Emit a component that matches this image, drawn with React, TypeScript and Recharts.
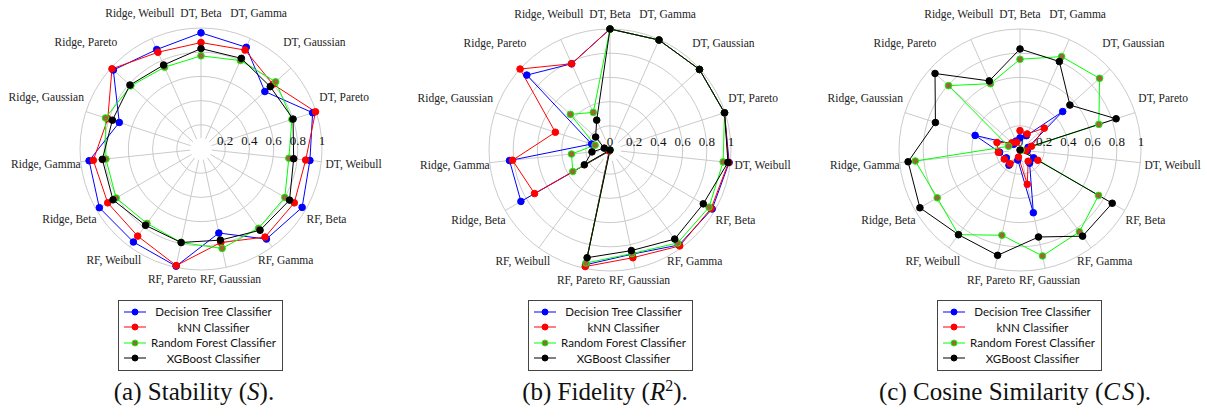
import React from "react";
import {
  RadarChart,
  Radar,
  PolarGrid,
  PolarAngleAxis,
  PolarRadiusAxis,
} from "recharts";

// clockwise from the top
const categories = [
  "DT, Beta", "DT, Gamma", "DT, Gaussian", "DT, Pareto", "DT, Weibull",
  "RF, Beta", "RF, Gamma", "RF, Gaussian", "RF, Pareto", "RF, Weibull",
  "Ridge, Beta", "Ridge, Gamma", "Ridge, Gaussian", "Ridge, Pareto", "Ridge, Weibull",
];

const radiusTicks = [0, 0.2, 0.4, 0.6, 0.8, 1];

// (a) stability
const stabilityDT = [0.96, 0.92, 0.71, 0.97, 0.905, 0.965, 0.92, 0.71, 0.99, 0.95, 0.97, 0.93, 0.71, 0.975, 0.9];
const stabilityKNN = [0.88, 0.895, 0.8, 0.995, 0.87, 0.89, 0.9, 0.79, 0.985, 0.89, 0.89, 0.895, 0.81, 0.99, 0.875];
const stabilityRF = [0.77, 0.8, 0.83, 0.79, 0.73, 0.8, 0.81, 0.84, 0.79, 0.76, 0.81, 0.79, 0.83, 0.78, 0.74];
const stabilityXGB = [0.83, 0.82, 0.77, 0.8, 0.77, 0.845, 0.83, 0.77, 0.79, 0.78, 0.84, 0.82, 0.77, 0.79, 0.76];

// (b) fidelity
const fidelityDT = [1, 0.995, 0.995, 0.995, 0.99, 0.975, 0.97, 0.88, 0.97, 0.01, 0.85, 0.835, 0.16, 0.925, 0.78];
const fidelityKNN = [1, 0.995, 0.995, 0.995, 0.985, 0.965, 0.98, 0.91, 0.985, 0.01, 0.72, 0.81, 0.475, 1, 0.78];
const fidelityRF = [1, 0.995, 0.995, 0.995, 0.94, 0.945, 0.95, 0.875, 0.955, 0, 0.355, 0.32, 0.13, 0.44, 0.34];
const fidelityXGB = [1, 0.995, 0.995, 0.995, 0.98, 0.89, 0.91, 0.85, 0.91, 0, 0.245, 0.15, 0.05, 0.16, 0.27];

// (c) cosine similarity
const cosineDT = [0.1, 0.13, 0.475, 0.07, 0.06, 0.13, 0.135, 0.53, 0.085, 0.155, 0.13, 0.17, 0.39, 0.07, 0.08];
const cosineKNN = [0.16, 0.145, 0.27, 0.1, 0.05, 0.17, 0.115, 0.29, 0.06, 0.14, 0.15, 0.18, 0.2, 0.09, 0.07];
const cosineRF = [0.75, 0.845, 0.885, 0.685, 0.01, 0.75, 0.835, 0.895, 0.72, 0.865, 0.79, 0.87, 0.1, 0.795, 0.6];
const cosineXGB = [0.835, 0.8, 0.555, 0.835, 0, 0.88, 0.88, 0.735, 0.89, 0.865, 0.955, 0.93, 0.735, 0.945, 0.625];

const seriesStyle = [
  { key: "dt", name: "Decision Tree Classifier", color: "#0000ff", dotFill: "#0000ff" },
  { key: "knn", name: "kNN Classifier", color: "#ff0000", dotFill: "#ff0000" },
  { key: "rf", name: "Random Forest Classifier", color: "#00ff00", dotFill: "#9b6638" },
  { key: "xgb", name: "XGBoost Classifier", color: "#000000", dotFill: "#000000" },
];

function rows(dt: number[], knn: number[], rf: number[], xgb: number[]) {
  return categories.map((category, i) => ({ category, dt: dt[i], knn: knn[i], rf: rf[i], xgb: xgb[i] }));
}

const OUTER = 121;
const tickFont = "'Liberation Serif', 'Times New Roman', serif";

// label boxes sit outside the ring, pushed away like pgfplots does
function AngleTick(props: any) {
  const { x, y, payload } = props;
  const label: string = payload.value;
  const a = (payload.coordinate * Math.PI) / 180;
  const c = Math.cos(a);
  const s = Math.sin(a);
  const hw = (label.length * 5) / 2;
  const offX = hw * Math.sign(c) * Math.pow(Math.abs(c), 1.4);
  const s2 = Math.abs(Math.sin(2 * a));
  const offY = s > 0 ? 10 * s + 16 * s2 : 5 * s - 5 * s2;
  return (
    <text
      x={x + offX}
      y={y - offY}
      dy="0.33em"
      textAnchor="middle"
      fontSize={11.5}
      fontFamily={tickFont}
      fill="#222"
    >
      {label}
    </text>
  );
}

function makeRadiusTick(showZero: boolean) {
  return (props: any) => {
    const { x, y, payload } = props;
    if (payload.value === 0 && !showZero) return <g />;
    return (
      <text x={x} y={y - 4} textAnchor="middle" fontSize={13} fontFamily={tickFont} fill="#111">
        {String(payload.value)}
      </text>
    );
  };
}

function Panel({ left, cy, data, showZero }: { left: number; cy: number; data: any[]; showZero: boolean }) {
  return (
    <div style={{ position: "absolute", left, top: 0 }}>
      <RadarChart width={400} height={292} data={data} cx={200} cy={cy} outerRadius={OUTER} margin={{ top: 0, right: 0, bottom: 0, left: 0 }}>
        <PolarGrid gridType="circle" radialLines={false} stroke="#c4c4c4" strokeWidth={0.9} />
        <PolarGrid gridType="circle" polarRadius={[]} stroke="#c4c4c4" strokeWidth={0.9} strokeDasharray="0 11 400" />
        <PolarAngleAxis dataKey="category" tick={<AngleTick />} tickLine={false} axisLine={false} tickSize={5} />
        <PolarRadiusAxis
          angle={0}
          type="number"
          domain={[0, 1]}
          ticks={radiusTicks}
          axisLine={false}
          tickLine={false}
          orientation="middle"
          tick={makeRadiusTick(showZero)}
        />
        {seriesStyle.map((s) => (
          <Radar
            key={s.key}
            dataKey={s.key}
            name={s.name}
            stroke={s.color}
            strokeWidth={1}
            fill="none"
            fillOpacity={0}
            dot={(p: any) => (
              <circle
                key={`${s.key}-${p.index}`}
                cx={p.cx}
                cy={p.cy}
                r={3.3}
                fill={s.dotFill}
                stroke={s.color}
                strokeWidth={1}
              />
            )}
            isAnimationActive={false}
          />
        ))}
      </RadarChart>
    </div>
  );
}

function LegendBox({ left }: { left: number }) {
  return (
    <div
      style={{
        position: "absolute",
        left,
        top: 300,
        width: 163,
        height: 66,
        border: "1px solid #444",
        background: "#fff",
        fontFamily: "Lato, 'Liberation Sans', sans-serif",
        fontSize: 11.5,
        color: "#111",
        paddingTop: 3,
        boxSizing: "content-box",
      }}
    >
      {seriesStyle.map((s) => (
        <div key={s.key} style={{ display: "flex", alignItems: "center", height: 15.5 }}>
          <svg width={30} height={10} style={{ flex: "none" }}>
            <line x1={5} y1={5} x2={27} y2={5} stroke={s.color} strokeWidth={1} />
            <circle cx={16} cy={5} r={3} fill={s.dotFill} stroke={s.color} strokeWidth={1} />
          </svg>
          <span style={{ flex: 1, textAlign: "center", paddingRight: 4, whiteSpace: "nowrap" }}>{s.name}</span>
        </div>
      ))}
    </div>
  );
}

const captionStyle: React.CSSProperties = {
  position: "absolute",
  top: 378,
  width: 400,
  textAlign: "center",
  fontFamily: "'Liberation Serif', serif",
  fontSize: 25,
  color: "#111",
  whiteSpace: "nowrap",
};

export default function App() {
  return (
    <div style={{ position: "absolute", left: 0, top: 0, width: 1207, height: 418, background: "#fff", overflow: "hidden" }}>
      <Panel left={1} cy={149} data={rows(stabilityDT, stabilityKNN, stabilityRF, stabilityXGB)} showZero={false} />
      <Panel left={410} cy={150} data={rows(fidelityDT, fidelityKNN, fidelityRF, fidelityXGB)} showZero={true} />
      <Panel left={820} cy={150} data={rows(cosineDT, cosineKNN, cosineRF, cosineXGB)} showZero={true} />

      <LegendBox left={118} />
      <LegendBox left={528} />
      <LegendBox left={937} />

      <div style={{ ...captionStyle, left: -6 }}>
        (a) Stability (<i>S</i>).
      </div>
      <div style={{ ...captionStyle, left: 405 }}>
        (b) Fidelity (<i>R</i>
        <sup style={{ fontSize: 16, lineHeight: 0 }}>2</sup>).
      </div>
      <div style={{ ...captionStyle, left: 815 }}>
        (c) Cosine Similarity (<i style={{ letterSpacing: 2 }}>CS</i>).
      </div>
    </div>
  );
}
